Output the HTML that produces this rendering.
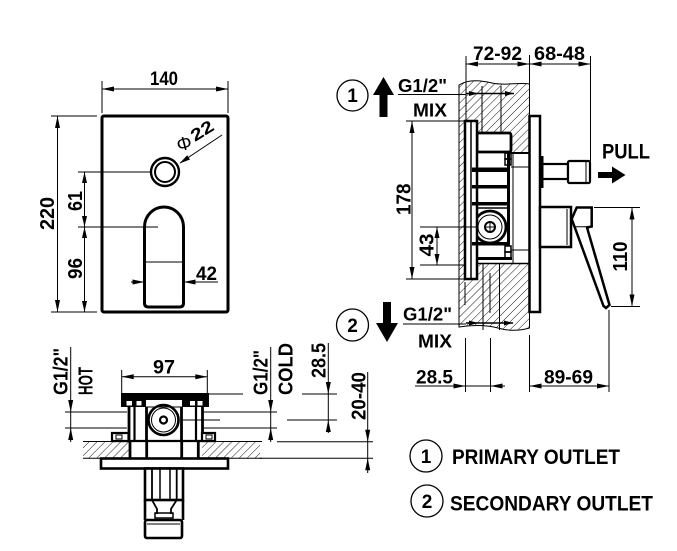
<!DOCTYPE html>
<html><head><meta charset="utf-8"><style>
html,body{margin:0;padding:0;background:#fff;}
svg{display:block;}
text{font-family:"Liberation Sans",Arial,sans-serif;font-weight:bold;fill:#000;}
</style></head><body>
<svg width="677" height="551" viewBox="0 0 677 551" xmlns="http://www.w3.org/2000/svg">
<defs>
<pattern id="h" width="5.6" height="5.6" patternUnits="userSpaceOnUse" patternTransform="rotate(45)">
<line x1="0" y1="0" x2="0" y2="5.6" stroke="#000" stroke-width="0.9"/>
</pattern>
</defs>
<rect width="677" height="551" fill="#fff"/>

<!-- ============ TOP VIEW (front plate) ============ -->
<g stroke="#000" fill="none" stroke-width="1">
<rect x="102" y="116" width="126" height="196" rx="2" stroke-width="3"/>
<line x1="102" y1="81" x2="102" y2="113"/>
<line x1="228" y1="81" x2="228" y2="113"/>
<line x1="102" y1="89" x2="228" y2="89"/>
<line x1="51" y1="116" x2="97" y2="116"/>
<line x1="51" y1="312" x2="97" y2="312"/>
<line x1="57.5" y1="116" x2="57.5" y2="312"/>
<line x1="78" y1="172" x2="150" y2="172"/>
<line x1="78" y1="227" x2="158" y2="227"/>
<line x1="84.5" y1="172" x2="84.5" y2="312"/>
<circle cx="165" cy="172" r="14" stroke-width="2.4"/>
<circle cx="165" cy="172" r="10" stroke-width="2"/>
<line x1="180" y1="163" x2="222" y2="135"/>
<path d="M144.5,227 A19.5,20 0 0 1 183.5,227 L183.5,303 Q183.5,307 179.5,307 L148.5,307 Q144.5,307 144.5,303 Z" stroke-width="3"/>
<line x1="146" y1="262" x2="182" y2="262"/>
<line x1="131" y1="282" x2="144.5" y2="282"/>
<line x1="183.5" y1="282" x2="218" y2="282"/>
</g>
<g fill="#000" stroke="none">
<polygon points="102,89 114,86.5 114,91.5"/>
<polygon points="228,89 216,86.5 216,91.5"/>
<polygon points="57.5,116 55,128 60,128"/>
<polygon points="57.5,312 55,300 60,300"/>
<polygon points="84.5,172 82,183 87,183"/>
<polygon points="84.5,227 82,216 87,216"/>
<polygon points="84.5,227 82,238 87,238"/>
<polygon points="84.5,312 82,301 87,301"/>
<polygon points="179.5,163.5 190,159.5 187.2,155.3"/>
<polygon points="144.5,282 132.5,279.5 132.5,284.5"/>
<polygon points="183.5,282 195.5,279.5 195.5,284.5"/>
</g>
<text x="150" y="85" font-size="19" textLength="28" lengthAdjust="spacingAndGlyphs">140</text>
<text transform="translate(54,230) rotate(-90)" font-size="20" textLength="33" lengthAdjust="spacingAndGlyphs">220</text>
<text transform="translate(82,211) rotate(-90)" font-size="20" textLength="20" lengthAdjust="spacingAndGlyphs">61</text>
<text transform="translate(82,279) rotate(-90)" font-size="20" textLength="21" lengthAdjust="spacingAndGlyphs">96</text>
<text x="196" y="280" font-size="19" textLength="21" lengthAdjust="spacingAndGlyphs">42</text>
<text x="184" y="150" font-size="19" text-anchor="middle" style="font-weight:normal" transform="rotate(-15 184 143)">Φ</text>
<text transform="translate(195,142) rotate(-32)" font-size="17" textLength="24" lengthAdjust="spacingAndGlyphs">22</text>

<!-- ============ SIDE VIEW ============ -->
<path d="M459,85 C468,79 480,80 492,83 C505,86 518,82 529.5,84 L529.5,328 C519,331 508,331 498,328 C486,325 472,325 459,327 Z" fill="url(#h)" stroke="#000" stroke-width="1"/>
<g stroke="#000" fill="none" stroke-width="1">
<line x1="482" y1="86" x2="482" y2="133"/>
<line x1="501" y1="86" x2="501" y2="133"/>
<line x1="483" y1="264" x2="483" y2="330"/>
<line x1="490" y1="273" x2="490" y2="313"/>
<line x1="499.5" y1="264" x2="499.5" y2="330"/>
<line x1="465" y1="282" x2="465" y2="305"/>
<line x1="466" y1="93.5" x2="514" y2="93.5" stroke-width="1.5"/>
<line x1="466" y1="323" x2="513" y2="323" stroke-width="1.5"/>
<rect x="472" y="152" width="57.5" height="112" fill="#fff" stroke="none"/>
<rect x="477" y="133" width="34" height="19" fill="#fff" stroke-width="2.8" rx="2"/>
<line x1="472" y1="152" x2="472" y2="264" stroke-width="3"/>
<line x1="508.5" y1="152" x2="508.5" y2="246" stroke-width="3"/>
<line x1="511" y1="153" x2="529" y2="153" stroke-width="2"/>
<line x1="511" y1="167" x2="529" y2="167"/>
<line x1="511" y1="250" x2="529" y2="250"/>
<line x1="476" y1="263.5" x2="529" y2="263.5" stroke-width="1.5"/>
<line x1="513" y1="153" x2="513" y2="263"/>
<rect x="505" y="153" width="6" height="6" stroke-width="1.5"/>
<rect x="505" y="159" width="6" height="6" stroke-width="1.5"/>
<rect x="505" y="246" width="6" height="6" stroke-width="1.5"/>
<rect x="505" y="252" width="6" height="6" stroke-width="1.5"/>
<line x1="476" y1="258.5" x2="512" y2="258.5" stroke-width="3"/>
<line x1="472" y1="208" x2="509" y2="208" stroke-width="1.5"/>
<circle cx="490" cy="227" r="16" stroke-width="2.8"/>
<circle cx="490" cy="227" r="12"/>
<circle cx="490" cy="227" r="5" stroke-width="2"/>
<line x1="486" y1="227" x2="494" y2="227"/>
<line x1="490" y1="223" x2="490" y2="231"/>
<rect x="465" y="121" width="12" height="158" fill="#fff" stroke-width="2.5"/>
<line x1="471" y1="121" x2="471" y2="279" stroke-width="1.5"/>
<rect x="529.5" y="116" width="10.5" height="196" fill="#fff" stroke-width="2.5"/>
<rect x="542" y="164" width="26" height="15" fill="#fff" stroke-width="2.2"/>
<rect x="568" y="161" width="22" height="22" rx="1.5" fill="#fff" stroke-width="2.2"/>
<line x1="586" y1="161" x2="586" y2="183"/>
<rect x="540" y="207" width="31" height="40" fill="#fff" stroke-width="2.5"/>
<line x1="567" y1="209" x2="567" y2="245"/>
<polygon points="576.7,207.5 591.7,207.5 591.7,226.5 587,227.5 609.5,305 606,308 603.5,306 575,228 571.7,219" fill="#fff" stroke-width="2.5"/>
<line x1="575" y1="226.7" x2="591.7" y2="226.7"/>
<line x1="466" y1="56" x2="466" y2="121"/>
<line x1="529.5" y1="55" x2="529.5" y2="116"/>
<line x1="590.5" y1="56" x2="590.5" y2="161"/>
<line x1="466" y1="64" x2="590.5" y2="64"/>
<line x1="398" y1="94.5" x2="466" y2="94.5"/>
<line x1="406" y1="121" x2="465" y2="121"/>
<line x1="406" y1="279" x2="465" y2="279"/>
<line x1="412" y1="121" x2="412" y2="279"/>
<line x1="420" y1="227" x2="476" y2="227"/>
<line x1="420" y1="265" x2="466" y2="265"/>
<line x1="437" y1="227" x2="437" y2="265"/>
<line x1="594" y1="207.5" x2="640" y2="207.5"/>
<line x1="611" y1="306.5" x2="640" y2="306.5"/>
<line x1="632" y1="207.5" x2="632" y2="306.5"/>
<line x1="403" y1="324" x2="466" y2="324"/>
<line x1="465.5" y1="338" x2="465.5" y2="392"/>
<line x1="490.5" y1="338" x2="490.5" y2="392"/>
<line x1="529.5" y1="335" x2="529.5" y2="392"/>
<line x1="609" y1="310" x2="609" y2="392"/>
<line x1="415" y1="386" x2="505" y2="386"/>
<line x1="529.5" y1="386" x2="609" y2="386"/>
<circle cx="352.5" cy="95.5" r="15.5" stroke-width="1.3"/>
<circle cx="352.5" cy="325" r="16" stroke-width="1.3"/>
<circle cx="426" cy="456" r="16" stroke-width="1.3"/>
<circle cx="427" cy="501" r="16" stroke-width="1.3"/>
</g>
<g fill="#000" stroke="none">
<rect x="472" y="167.5" width="37" height="4.5"/>
<rect x="472" y="185" width="37" height="3.5"/>
<rect x="472" y="202" width="37" height="3.5"/>
<rect x="472" y="242" width="37" height="3.5"/>
<rect x="540" y="156" width="3.5" height="32"/>
<polygon points="466,64 478,61.5 478,66.5"/>
<polygon points="529.5,64 517.5,61.5 517.5,66.5"/>
<polygon points="529.5,64 541.5,61.5 541.5,66.5"/>
<polygon points="590.5,64 578.5,61.5 578.5,66.5"/>
<polygon points="478,93.5 469,91 469,96"/>
<polygon points="514,93.5 505,91 505,96"/>
<polygon points="478,323 469,320.5 469,325.5"/>
<polygon points="513,323 504,320.5 504,325.5"/>
<polygon points="412,121 409.5,133 414.5,133"/>
<polygon points="412,279 409.5,267 414.5,267"/>
<polygon points="437,227 434.5,238 439.5,238"/>
<polygon points="437,265 434.5,254 439.5,254"/>
<polygon points="632,207.5 629.5,219.5 634.5,219.5"/>
<polygon points="632,306.5 629.5,294.5 634.5,294.5"/>
<polygon points="465.5,386 453.5,383.5 453.5,388.5"/>
<polygon points="490.5,386 502.5,383.5 502.5,388.5"/>
<polygon points="529.5,386 541.5,383.5 541.5,388.5"/>
<polygon points="609,386 597,383.5 597,388.5"/>
<polygon points="379.5,117 387.5,117 387.5,95 394,95 383.5,77 373,95 379.5,95"/>
<polygon points="383,302 391,302 391,323 398,323 387,342 376,323 383,323"/>
<polygon points="598,172 612,172 612,166.5 625.5,175 612,183.5 612,178 598,178"/>
</g>
<text x="473" y="60" font-size="19" textLength="49" lengthAdjust="spacingAndGlyphs">72-92</text>
<text x="534" y="60" font-size="19" textLength="51" lengthAdjust="spacingAndGlyphs">68-48</text>
<text x="398" y="92" font-size="18" textLength="49" lengthAdjust="spacingAndGlyphs">G1/2"</text>
<text x="413" y="116.5" font-size="18" textLength="34" lengthAdjust="spacingAndGlyphs">MIX</text>
<text transform="translate(410.5,215) rotate(-90)" font-size="20" textLength="31.5" lengthAdjust="spacingAndGlyphs">178</text>
<text transform="translate(433.5,256.5) rotate(-90)" font-size="20" textLength="23" lengthAdjust="spacingAndGlyphs">43</text>
<text x="602" y="158.5" font-size="21" textLength="48" lengthAdjust="spacingAndGlyphs">PULL</text>
<text transform="translate(627,271.5) rotate(-90)" font-size="20" textLength="30" lengthAdjust="spacingAndGlyphs">110</text>
<text x="403" y="320.5" font-size="18" textLength="49" lengthAdjust="spacingAndGlyphs">G1/2"</text>
<text x="418" y="347.5" font-size="18" textLength="34" lengthAdjust="spacingAndGlyphs">MIX</text>
<text x="416" y="383.5" font-size="19" textLength="37" lengthAdjust="spacingAndGlyphs">28.5</text>
<text x="544" y="383.5" font-size="19" textLength="49" lengthAdjust="spacingAndGlyphs">89-69</text>
<text x="352.5" y="102" font-size="19" text-anchor="middle">1</text>
<text x="352.5" y="332" font-size="19" text-anchor="middle">2</text>

<text x="426" y="463" font-size="19" text-anchor="middle">1</text>
<text x="452" y="464" font-size="21" textLength="168" lengthAdjust="spacingAndGlyphs">PRIMARY OUTLET</text>
<text x="427" y="508" font-size="19" text-anchor="middle">2</text>
<text x="450" y="510.5" font-size="21" textLength="203" lengthAdjust="spacingAndGlyphs">SECONDARY OUTLET</text>

<!-- ============ BOTTOM FRONT VIEW ============ -->
<rect x="83" y="441" width="46" height="17.3" fill="url(#h)"/>
<rect x="202" y="441" width="58" height="17.3" fill="url(#h)"/>
<g stroke="#000" fill="none" stroke-width="1">
<line x1="83" y1="441.5" x2="262" y2="441.5"/>
<line x1="83" y1="458.3" x2="262" y2="458.3"/>
<line x1="112" y1="441" x2="215" y2="441" stroke-width="2.2"/>
<line x1="130" y1="441" x2="130" y2="458" stroke-width="2.8"/>
<line x1="146.7" y1="441" x2="146.7" y2="458" stroke-width="2.8"/>
<line x1="181.7" y1="441" x2="181.7" y2="458" stroke-width="2.8"/>
<line x1="198.3" y1="441" x2="198.3" y2="458" stroke-width="2.8"/>
<line x1="129" y1="407" x2="129" y2="441" stroke-width="2.8"/>
<line x1="134.5" y1="407" x2="134.5" y2="441" stroke-width="2.2"/>
<line x1="146.5" y1="407" x2="146.5" y2="441" stroke-width="2.8"/>
<line x1="181.5" y1="407" x2="181.5" y2="441" stroke-width="2.8"/>
<line x1="196" y1="407" x2="196" y2="441" stroke-width="2.2"/>
<line x1="202.5" y1="407" x2="202.5" y2="441" stroke-width="2.8"/>
<line x1="146" y1="407" x2="182" y2="407"/>
<circle cx="163.5" cy="420" r="15" stroke-width="2.6"/>
<circle cx="163.5" cy="420" r="12"/>
<circle cx="163.5" cy="420" r="3.5" stroke-width="2.2"/>
<rect x="112" y="433" width="16.5" height="8" fill="#fff" stroke-width="2.2"/>
<rect x="116" y="435" width="6" height="4" stroke-width="1"/>
<rect x="202" y="433" width="13" height="8" fill="#fff" stroke-width="2.2"/>
<rect x="206" y="435" width="6" height="4" stroke-width="1"/>
<rect x="101" y="458.5" width="127" height="10" fill="#fff" stroke-width="2.6"/>
<rect x="145" y="468.5" width="38" height="31.5" fill="#fff" stroke-width="2.6"/>
<line x1="152" y1="468" x2="152" y2="500" stroke-width="1.8"/>
<line x1="160" y1="468" x2="160" y2="500" stroke-width="1.5"/>
<line x1="170" y1="468" x2="170" y2="500" stroke-width="1.5"/>
<line x1="176.7" y1="468" x2="176.7" y2="500" stroke-width="1.8"/>
<line x1="145" y1="500" x2="145" y2="520" stroke-width="2.6"/>
<line x1="183" y1="500" x2="183" y2="520" stroke-width="2.6"/>
<path d="M152,500 L157,509 L157,514 M176.7,500 L171,509 L171,514" stroke-width="1.8"/>
<rect x="155" y="513" width="18" height="5" stroke-width="1.5"/>
<rect x="145" y="520" width="37" height="18" rx="2" fill="#fff" stroke-width="2.6"/>
<line x1="147" y1="524" x2="180" y2="524"/>
<line x1="70.7" y1="347" x2="70.7" y2="442"/>
<line x1="65" y1="412" x2="127" y2="412"/>
<line x1="65" y1="428" x2="127" y2="428"/>
<line x1="270.7" y1="347" x2="270.7" y2="442"/>
<line x1="203" y1="412" x2="277" y2="412"/>
<line x1="203" y1="428" x2="277" y2="428"/>
<line x1="121.7" y1="370" x2="121.7" y2="393"/>
<line x1="207.3" y1="370" x2="207.3" y2="393"/>
<line x1="121.7" y1="376.7" x2="207.3" y2="376.7"/>
<line x1="209" y1="394" x2="243" y2="394"/>
<line x1="302" y1="394" x2="337" y2="394"/>
<line x1="182" y1="420" x2="220" y2="420"/>
<line x1="287" y1="420" x2="337" y2="420"/>
<line x1="328.3" y1="343" x2="328.3" y2="433"/>
<line x1="367.7" y1="372" x2="367.7" y2="473"/>
<line x1="277" y1="441.7" x2="373" y2="441.7"/>
<line x1="260" y1="458.3" x2="373" y2="458.3"/>
</g>
<g fill="#000" stroke="none">
<rect x="121" y="393" width="88" height="7"/>
<rect x="121" y="400" width="25" height="7"/>
<rect x="182" y="400" width="27" height="7"/>
<rect x="126.5" y="401" width="5.5" height="4.5" fill="#fff"/>
<rect x="136.5" y="401" width="5" height="4.5" fill="#fff"/>
<rect x="190" y="401" width="5" height="4.5" fill="#fff"/>
<rect x="197.5" y="401" width="5" height="4.5" fill="#fff"/>
<polygon points="70.7,412 68.2,400 73.2,400"/>
<polygon points="70.7,428 68.2,440 73.2,440"/>
<polygon points="270.7,412 268.2,400 273.2,400"/>
<polygon points="270.7,428 268.2,440 273.2,440"/>
<polygon points="121.7,376.7 133.7,374.2 133.7,379.2"/>
<polygon points="207.3,376.7 195.3,374.2 195.3,379.2"/>
<polygon points="328.3,394 325.8,382 330.8,382"/>
<polygon points="328.3,420 325.8,432 330.8,432"/>
<polygon points="367.7,441.7 365.2,429.7 370.2,429.7"/>
<polygon points="367.7,458.3 365.2,470.3 370.2,470.3"/>
</g>
<text transform="translate(67.5,395) rotate(-90)" font-size="20" textLength="47" lengthAdjust="spacingAndGlyphs">G1/2"</text>
<text transform="translate(92.5,395) rotate(-90)" font-size="20" textLength="28" lengthAdjust="spacingAndGlyphs">HOT</text>
<text x="153" y="373.5" font-size="19" textLength="22" lengthAdjust="spacingAndGlyphs">97</text>
<text transform="translate(267.5,395) rotate(-90)" font-size="20" textLength="45" lengthAdjust="spacingAndGlyphs">G1/2"</text>
<text transform="translate(292.5,395) rotate(-90)" font-size="20" textLength="52" lengthAdjust="spacingAndGlyphs">COLD</text>
<text transform="translate(325.5,378) rotate(-90)" font-size="20" textLength="35" lengthAdjust="spacingAndGlyphs">28.5</text>
<text transform="translate(365.5,420) rotate(-90)" font-size="20" textLength="48" lengthAdjust="spacingAndGlyphs">20-40</text>
</svg>
</body></html>
